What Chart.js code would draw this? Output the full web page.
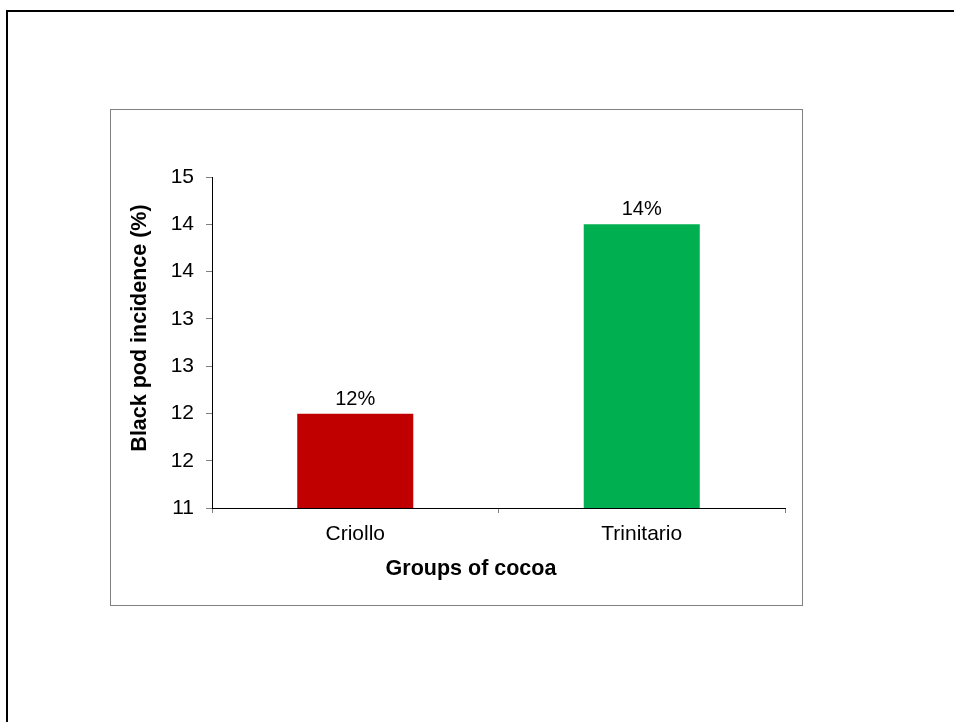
<!DOCTYPE html>
<html>
<head>
<meta charset="utf-8">
<script src="https://cdn.jsdelivr.net/npm/chart.js@4.4.1/dist/chart.umd.min.js"></script>
<style>
  html, body { margin: 0; padding: 0; background: #ffffff; }
  #wrap { position: relative; width: 954px; height: 722px; }
</style>
</head>
<body>
<div id="wrap"><canvas id="chart" width="954" height="722"></canvas></div>
<script>
// Cocoa groups and their black pod incidence (%)
const categories = ['Criollo', 'Trinitario'];
const incidence = [12.14, 14.43];
const barColors = ['#C00000', '#00B050'];

// Value axis: eight evenly spaced ticks from 11 to 15, shown as whole numbers
const yTickValues = [11, 11.571, 12.143, 12.714, 13.286, 13.857, 14.429, 15];

const xTitle = 'Groups of cocoa';
const yTitle = 'Black pod incidence (%)';

const FONT = '"Liberation Sans", Arial, sans-serif';

// Frame, plot box, value labels and axis titles
const decorations = {
  id: 'decorations',
  beforeDraw(chart) {
    const ctx = chart.ctx;
    ctx.save();
    ctx.fillStyle = '#ffffff';
    ctx.fillRect(0, 0, chart.width, chart.height);
    // outer frame (runs past the right and bottom edges)
    ctx.strokeStyle = '#000000';
    ctx.lineWidth = 2;
    ctx.strokeRect(7, 11, 1200, 1000);
    // chart box
    ctx.strokeStyle = '#808080';
    ctx.lineWidth = 1;
    ctx.strokeRect(110.5, 109.5, 692, 496);
    ctx.restore();
  },
  afterDatasetsDraw(chart) {
    const ctx = chart.ctx;
    ctx.save();
    ctx.fillStyle = '#000000';
    ctx.font = '20px ' + FONT;
    ctx.textAlign = 'center';
    ctx.textBaseline = 'alphabetic';
    const meta = chart.getDatasetMeta(0);
    meta.data.forEach((bar, i) => {
      const v = chart.data.datasets[0].data[i];
      ctx.fillText(Math.round(v) + '%', bar.x, bar.y - 9);
    });
    // axis titles
    ctx.font = 'bold 21.5px ' + FONT;
    ctx.textBaseline = 'middle';
    ctx.fillText(xTitle, 471, 569);
    ctx.translate(140, 328);
    ctx.rotate(-Math.PI / 2);
    ctx.fillText(yTitle, 0, 0);
    ctx.restore();
  }
};

new Chart(document.getElementById('chart'), {
  type: 'bar',
  data: {
    labels: categories,
    datasets: [{
      data: incidence,
      backgroundColor: barColors,
      borderWidth: 0,
      barPercentage: 0.405,
      categoryPercentage: 1.0
    }]
  },
  options: {
    responsive: false,
    animation: false,
    devicePixelRatio: 1,
    layout: { padding: { left: 152, right: 169, top: 177, bottom: 174 } },
    plugins: {
      legend: { display: false },
      tooltip: { enabled: false }
    },
    scales: {
      x: {
        afterFit(scale) { scale.height = 40; },
        grid: {
          offset: true,
          drawOnChartArea: false,
          drawTicks: true,
          tickLength: 5,
          tickColor: '#808080'
        },
        border: { color: '#000000', width: 1 },
        ticks: {
          color: '#000000',
          padding: 9,
          font: { family: FONT, size: 21 }
        }
      },
      y: {
        min: 11,
        max: 15,
        afterFit(scale) { scale.width = 60; },
        afterBuildTicks(scale) {
          scale.ticks = yTickValues.map(v => ({ value: v }));
        },
        grid: {
          drawOnChartArea: false,
          drawTicks: true,
          tickLength: 6,
          tickColor: '#808080'
        },
        border: { color: '#000000', width: 1 },
        ticks: {
          color: '#000000',
          padding: 12,
          font: { family: FONT, size: 21 },
          callback: (value) => String(Math.round(value))
        }
      }
    }
  },
  plugins: [decorations]
});
</script>
</body>
</html>
